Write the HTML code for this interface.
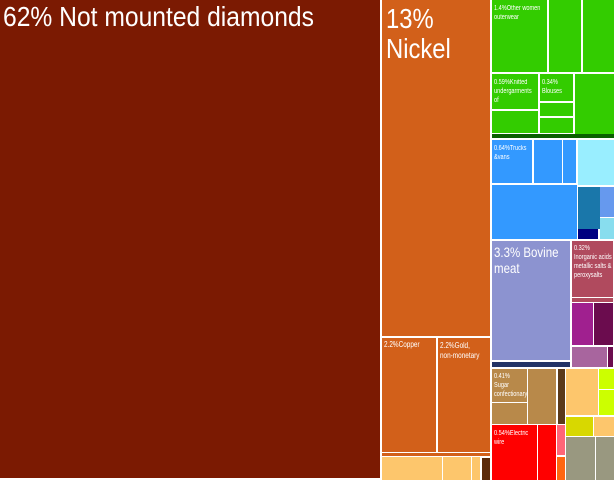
<!DOCTYPE html><html><head><style>
body{margin:0;width:614px;height:480px;background:#fff;position:relative;overflow:hidden;font-family:"Liberation Sans",sans-serif}
div{position:absolute;box-sizing:border-box}
.t{color:#fff;white-space:nowrap;transform-origin:0 0;line-height:1}
</style></head><body>
<div style="left:0;top:0;width:380px;height:478px;background:#7B1A02"></div>
<div class="t" style="left:3px;top:3px;font-size:28px;transform:scaleX(0.88)">62% Not mounted diamonds</div>
<!-- orange -->
<div style="left:382px;top:0;width:108px;height:336px;background:#D2601A"></div>
<div class="t" style="left:386px;top:4px;font-size:28px;transform:scaleX(0.85);line-height:30px">13%<br>Nickel</div>
<div style="left:382px;top:338px;width:54px;height:114px;background:#D2601A"></div>
<div style="left:438px;top:338px;width:52px;height:114px;background:#D2601A"></div>
<div class="t" style="left:384px;top:341px;font-size:8px;transform:scaleX(0.8)">2.2%Copper</div>
<div class="t" style="left:440px;top:341px;font-size:8px;transform:scaleX(0.8);line-height:10px">2.2%Gold,<br>non-monetary</div>
<div style="left:382px;top:453px;width:108px;height:3px;background:#D2601A"></div>
<div style="left:382px;top:457px;width:60px;height:23px;background:#FDC66C"></div>
<div style="left:443px;top:457px;width:28px;height:23px;background:#FDC66C"></div>
<div style="left:472px;top:457px;width:8px;height:23px;background:#FDC66C"></div>
<div style="left:482px;top:458px;width:8px;height:22px;background:#5C2A0A"></div>
<!-- green -->
<div style="left:492px;top:0;width:55px;height:72px;background:#33CC00"></div>
<div style="left:549px;top:0;width:32px;height:72px;background:#33CC00"></div>
<div style="left:583px;top:0;width:31px;height:72px;background:#33CC00"></div>
<div class="t" style="left:494px;top:4px;font-size:7px;transform:scaleX(0.8);line-height:9px">1.4%Other women<br>outerwear</div>
<div style="left:492px;top:74px;width:46px;height:35px;background:#33CC00"></div>
<div class="t" style="left:494px;top:78px;font-size:7px;transform:scaleX(0.8);line-height:9px">0.59%Knitted<br>undergarments<br>of</div>
<div style="left:492px;top:111px;width:46px;height:22px;background:#33CC00"></div>
<div style="left:540px;top:74px;width:33px;height:27px;background:#33CC00"></div>
<div class="t" style="left:542px;top:78px;font-size:7px;transform:scaleX(0.8);line-height:9px">0.34%<br>Blouses</div>
<div style="left:540px;top:103px;width:33px;height:13px;background:#33CC00"></div>
<div style="left:540px;top:118px;width:33px;height:15px;background:#33CC00"></div>
<div style="left:575px;top:74px;width:39px;height:60px;background:#33CC00"></div>
<div style="left:492px;top:134px;width:122px;height:4px;background:#0A6000"></div>
<!-- blue -->
<div style="left:492px;top:140px;width:40px;height:43px;background:#3399FF"></div>
<div class="t" style="left:494px;top:144px;font-size:7px;transform:scaleX(0.8);line-height:9px">0.64%Trucks<br>&amp;vans</div>
<div style="left:534px;top:140px;width:28px;height:43px;background:#3399FF"></div>
<div style="left:563px;top:140px;width:13px;height:43px;background:#3399FF"></div>
<div style="left:492px;top:185px;width:85px;height:54px;background:#3399FF"></div>
<div style="left:578px;top:140px;width:36px;height:45px;background:#99EEFF"></div>
<div style="left:578px;top:187px;width:22px;height:42px;background:#1A77AA"></div>
<div style="left:600px;top:187px;width:14px;height:30px;background:#6699EE"></div>
<div style="left:600px;top:218px;width:14px;height:21px;background:#88DDEE"></div>
<div style="left:578px;top:229px;width:20px;height:10px;background:#000080"></div>
<!-- bovine -->
<div style="left:492px;top:241px;width:78px;height:119px;background:#8C93D0"></div>
<div class="t" style="left:494px;top:244px;font-size:14px;transform:scaleX(0.82);line-height:16px">3.3% Bovine<br>meat</div>
<div style="left:492px;top:362px;width:78px;height:5px;background:#223366"></div>
<div style="left:572px;top:241px;width:41px;height:56px;background:#B04A5E"></div>
<div class="t" style="left:574px;top:244px;font-size:7px;transform:scaleX(0.8);line-height:9px">0.32%<br>Inorganic acids<br>metallic salts &amp;<br>peroxysalts</div>
<div style="left:572px;top:298px;width:41px;height:4px;background:#B04A5E"></div>
<div style="left:572px;top:303px;width:21px;height:42px;background:#A0208F"></div>
<div style="left:594px;top:303px;width:19px;height:42px;background:#6B0C4E"></div>
<div style="left:572px;top:347px;width:35px;height:20px;background:#A8659E"></div>
<div style="left:608px;top:347px;width:5px;height:20px;background:#6B0C4E"></div>
<!-- brown -->
<div style="left:492px;top:369px;width:35px;height:33px;background:#B8894A"></div>
<div class="t" style="left:494px;top:372px;font-size:7px;transform:scaleX(0.8);line-height:9px">0.41%<br>Sugar<br>confectionary</div>
<div style="left:492px;top:403px;width:35px;height:21px;background:#B8894A"></div>
<div style="left:528px;top:369px;width:28px;height:55px;background:#B8894A"></div>
<div style="left:558px;top:369px;width:7px;height:55px;background:#5C3A1A"></div>
<!-- red -->
<div style="left:492px;top:425px;width:45px;height:55px;background:#FF0000"></div>
<div class="t" style="left:494px;top:429px;font-size:7px;transform:scaleX(0.8);line-height:9px">0.54%Electric<br>wire</div>
<div style="left:538px;top:425px;width:18px;height:55px;background:#FF0000"></div>
<div style="left:557px;top:425px;width:8px;height:30px;background:#FF6677"></div>
<div style="left:557px;top:457px;width:8px;height:23px;background:#FF6611"></div>
<!-- right -->
<div style="left:566px;top:369px;width:32px;height:46px;background:#FDC66C"></div>
<div style="left:599px;top:369px;width:15px;height:20px;background:#CCFF00"></div>
<div style="left:599px;top:390px;width:15px;height:25px;background:#CCFF00"></div>
<div style="left:566px;top:417px;width:27px;height:19px;background:#D8D800"></div>
<div style="left:594px;top:417px;width:20px;height:19px;background:#FDC66C"></div>
<div style="left:566px;top:437px;width:29px;height:43px;background:#999880"></div>
<div style="left:596px;top:437px;width:18px;height:43px;background:#999880"></div>
</body></html>
